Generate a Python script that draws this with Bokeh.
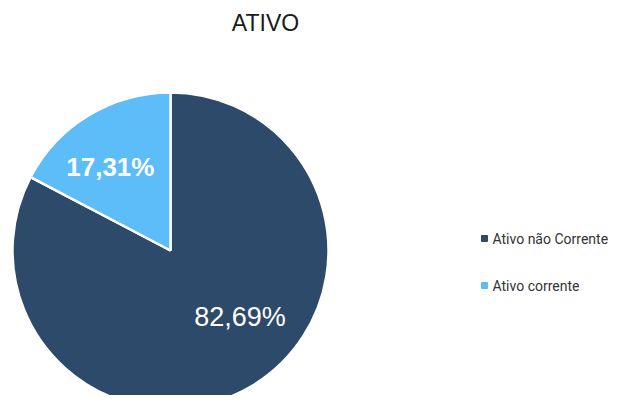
import numpy as np
from bokeh.plotting import figure
from bokeh.models import Range1d, ColumnDataSource
from bokeh.core.properties import value
from bokeh.embed import file_html
from bokeh.resources import INLINE

title = "ATIVO"
categories = ["Ativo não Corrente", "Ativo corrente"]
shares = [82.69, 17.31]
labels = ["82,69%", "17,31%"]
colors = ["#2e4a6b", "#5cbdf8"]

W, H = 629, 395
p = figure(width=W, height=H, output_backend="svg", toolbar_location=None,
           x_range=Range1d(0, W), y_range=Range1d(403 - H, 403),
           min_border=0, outline_line_color=None)
p.axis.visible = False
p.grid.visible = False
p.background_fill_color = "white"
p.border_fill_color = "white"

# pie: first slice clockwise from 12 o'clock
cx, cy, r = 170, 403 - 250, 158
fr = np.array(shares) / sum(shares)
ends = np.pi / 2 - np.concatenate([[0], np.cumsum(fr)[:-1]]) * 2 * np.pi
starts = ends - fr * 2 * np.pi
src = ColumnDataSource(dict(start=starts, end=ends, color=colors, cat=categories))
p.wedge(x=cx, y=cy, radius=r, start_angle="start", end_angle="end",
        fill_color="color", line_color="white", line_width=2.5, source=src)

# labels inside slices
mid = (starts + ends) / 2 + np.radians([15, 4.7])
lr = np.array([0.61, 0.65])
lx = cx + lr * r * np.cos(mid)
ly = cy + lr * r * np.sin(mid)
p.text(x=[lx[0]], y=[ly[0]], text=[labels[0]], text_color="white",
       text_font=value("Liberation Sans"), text_font_size="27px",
       text_align="center", text_baseline="middle")
p.text(x=[lx[1]], y=[ly[1]], text=[labels[1]], text_color="white",
       text_font=value("Liberation Sans"), text_font_size="26px", text_font_style="bold",
       text_align="center", text_baseline="middle")

# title
p.text(x=[265], y=[403 - 22], text=[title], text_color="#1a1a1a",
       text_font=value("Liberation Sans"), text_font_size="23px",
       text_align="center", text_baseline="middle")

# legend
ly_leg = [403 - 238, 403 - 285]
p.scatter(x=[484, 484], y=ly_leg, marker="square", size=6, color=colors)
p.text(x=[492, 492], y=ly_leg, text=categories, text_color="#333333",
       text_font=value("Roboto"), text_font_size="14px",
       text_align="left", text_baseline="middle")

open("out.html", "w").write(file_html(p, INLINE))
